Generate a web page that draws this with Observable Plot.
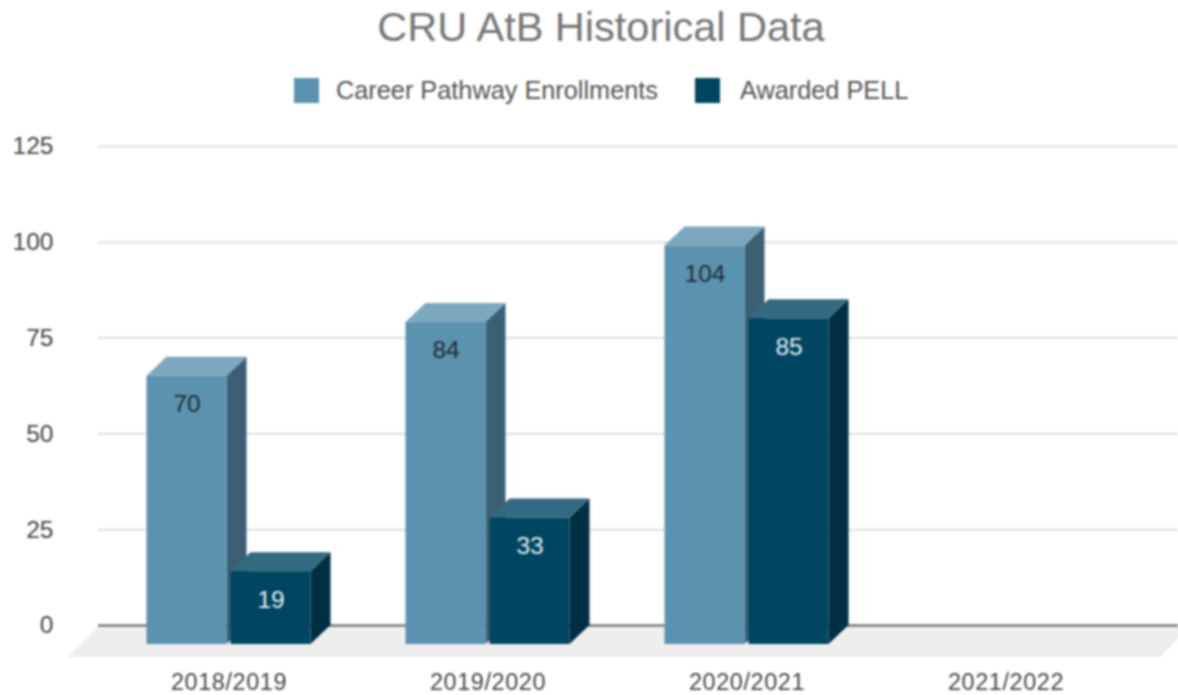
<!DOCTYPE html>
<html>
<head>
<meta charset="utf-8">
<script src="https://cdn.jsdelivr.net/npm/d3@7"></script>
<script src="https://cdn.jsdelivr.net/npm/@observablehq/plot@0.6"></script>
<style>
html,body{margin:0;padding:0;background:#fff;overflow:hidden}
#wrap{width:1178px;height:695px;position:relative;background:#fff;font-family:"Liberation Sans",Arial,sans-serif;filter:blur(0.9px)}
#title{position:absolute;left:0;width:1202px;top:4px;text-align:center;font-size:41.5px;line-height:46px;color:#757575}
.lg{position:absolute;top:78px;width:25px;height:25px}
.lt{position:absolute;top:76px;font-size:25.3px;line-height:28px;color:#555;white-space:nowrap}
#chart{position:absolute;left:0;top:115px}
svg g[aria-label="x-axis tick label"] text{letter-spacing:.55px}
</style>
</head>
<body>
<div id="wrap">
<div id="title">CRU AtB Historical Data</div>
<div class="lg" style="left:294px;background:#5b92b0"></div>
<div class="lt" style="left:336px">Career Pathway Enrollments</div>
<div class="lg" style="left:695px;background:#004562"></div>
<div class="lt" style="left:740px">Awarded PELL</div>
<div id="chart"></div>
</div>
<script>
const years = ["2018/2019","2019/2020","2020/2021","2021/2022"];
const careerValues = [70,84,104,null];
const pellValues = [19,33,85,null];
const yTicks = [0,25,50,75,100,125];
const careerRows = years.map((year,i)=>({year,value:careerValues[i]}));
const pellRows = years.map((year,i)=>({year,value:pellValues[i]}));

const barW = 80, depthX = 20, depthY = 19;

function faces(rows, left, topColor, sideColor){
  return (index, scales, values, dimensions, context) => {
    const g = d3.select(context.document.createElementNS("http://www.w3.org/2000/svg","g"));
    for (const r of rows) {
      if (r.value == null) continue;
      const xl = scales.x(r.year) + left, xr = xl + barW;
      const t = scales.y(r.value) + depthY, b = scales.y(0) + depthY;
      g.append("polygon").attr("fill",sideColor)
        .attr("points",[[xr,t],[xr+depthX,t-depthY],[xr+depthX,b-depthY],[xr,b]].join(" "));
      g.append("polygon").attr("fill",topColor)
        .attr("points",[[xl,t],[xl+depthX,t-depthY],[xr+depthX,t-depthY],[xr,t]].join(" "));
    }
    return g.node();
  };
}
function floor(index, scales, values, dimensions, context){
  const g = d3.select(context.document.createElementNS("http://www.w3.org/2000/svg","g"));
  const y0 = scales.y(0);
  g.append("polygon").attr("fill","#eeeeee")
    .attr("points",[[dimensions.marginLeft,y0+2],[1190,y0+2],[1160,y0+32],[67,y0+32]].join(" "));
  return g.node();
}

const plot = Plot.plot({
  width:1178, height:580,
  marginTop:31, marginBottom:70, marginLeft:98, marginRight:0,
  style:{fontFamily:'"Liberation Sans",Arial,sans-serif',background:"transparent",overflow:"visible"},
  x:{type:"band",domain:years,range:[98.5,1134.5],padding:0,align:0.5},
  y:{domain:[0,125]},
  marks:[
    Plot.ruleY(yTicks.filter(d=>d>0),{stroke:"#dedede",strokeWidth:2}),
    floor,
    Plot.ruleY([0],{stroke:"#777",strokeWidth:2.5}),
    Plot.axisY({ticks:yTicks,tickSize:0,tickPadding:45,fontSize:24.5,fill:"#444",label:null}),
    Plot.axisX({tickSize:0,tickPadding:48,fontSize:23.5,fill:"#444",label:null}),
    faces(careerRows,47.5,"#7ba7bf","#3b6074"),
    Plot.barY(careerRows,{x:"year",y:"value",fill:"#5b92b0",insetLeft:47.5,insetRight:131.5,dy:depthY}),
    faces(pellRows,131.5,"#336a81","#002e42"),
    Plot.barY(pellRows,{x:"year",y:"value",fill:"#004562",insetLeft:131.5,insetRight:47.5,dy:depthY}),
    Plot.text(careerRows,{x:"year",y:"value",text:"value",dx:-42,dy:47,fontSize:24.5,fill:"#1f2d36"}),
    Plot.text(pellRows,{x:"year",y:"value",text:"value",dx:42,dy:47,fontSize:24.5,fill:"#e4edf1"})
  ]
});
document.getElementById("chart").appendChild(plot);
</script>
</body>
</html>
